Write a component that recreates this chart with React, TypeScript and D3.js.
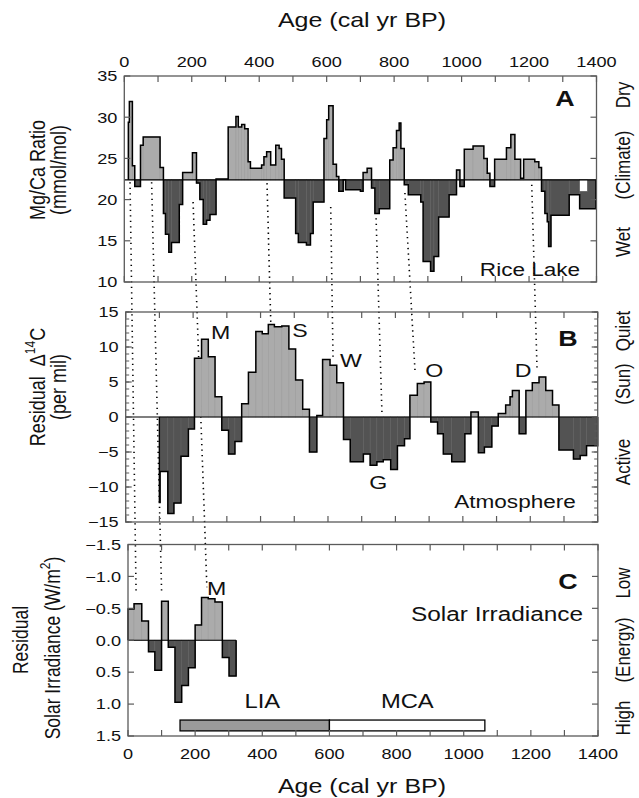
import React from 'react';
import * as d3 from 'd3';

const ageTicks = [0, 200, 400, 600, 800, 1000, 1200, 1400];
const ageMinor = d3.range(0, 1401, 100);

// A: Rice Lake Mg/Ca (step start ages, last entry = end of record)
const riceAge = [12, 15, 24, 31, 48, 56, 106, 116, 122, 132, 140, 163, 173, 202, 214, 224, 234, 244, 254, 272, 308, 331, 338, 348, 357, 367, 374, 407, 414, 422, 434, 449, 459, 466, 474, 508, 516, 540, 552, 560, 592, 600, 606, 619, 629, 636, 649, 656, 700, 708, 720, 733, 743, 756, 787, 797, 807, 815, 820, 830, 842, 879, 886, 908, 918, 932, 963, 985, 995, 1008, 1034, 1066, 1076, 1084, 1098, 1133, 1146, 1158, 1175, 1184, 1217, 1229, 1237, 1247, 1254, 1258, 1265, 1319, 1350, 1398];
const riceMgCa = [29.4, 31.9, 24.1, 21.6, 26.6, 27.6, 23.9, 18.3, 15.8, 13.6, 14.8, 19.4, 23.3, 25.7, 22.0, 20.0, 17.0, 17.5, 18.2, 22.5, 28.8, 30.1, 28.8, 29.1, 28.6, 24.6, 23.8, 24.2, 25.2, 25.8, 24.2, 26.6, 26.2, 24.9, 20.2, 15.9, 14.8, 14.5, 15.9, 19.7, 27.4, 29.7, 31.4, 24.3, 22.8, 21.0, 22.4, 21.2, 21.0, 23.3, 23.8, 21.4, 18.3, 18.9, 24.8, 26.3, 28.4, 29.3, 26.2, 21.8, 20.6, 19.7, 12.5, 11.3, 13.1, 17.9, 20.6, 23.6, 21.6, 26.1, 26.5, 25.0, 23.2, 21.6, 24.9, 26.3, 27.9, 24.9, 22.6, 24.9, 24.6, 23.9, 21.0, 18.3, 17.3, 14.3, 18.1, 20.6, 18.9];
const riceBase = 22.4;
// unfilled gap near the end of the record
const riceGapAge = [1350, 1373];
const riceGapVal = 21.0;

// B: residual D14C
const d14cAge = [100, 102, 125, 143, 164, 186, 204, 225, 245, 265, 285, 305, 324, 344, 364, 386, 405, 423, 441, 463, 484, 504, 525, 545, 567, 584, 606, 626, 646, 666, 705, 725, 745, 764, 786, 806, 827, 843, 865, 885, 905, 925, 942, 967, 1006, 1024, 1046, 1064, 1086, 1105, 1127, 1140, 1147, 1167, 1187, 1206, 1226, 1246, 1266, 1285, 1328, 1348, 1367, 1400];
const d14cResid = [-12.2, -7.8, -13.8, -12.3, -5.6, -1.7, 8.4, 11.1, 8.6, 2.9, -1.9, -5.3, -3.5, 1.9, 6.4, 12.2, 11.9, 13.2, 12.9, 13.0, 9.7, 5.3, 1.1, -5.0, 0.2, 8.2, 7.4, 4.9, -3.2, -6.4, -5.3, -6.9, -6.4, -6.1, -7.5, -4.1, -3.1, 3.1, 4.8, 5.0, -0.7, -2.4, -5.3, -6.4, -2.4, 0.7, -5.1, -4.3, -1.3, 0.5, 1.7, 2.9, 3.8, -2.4, 3.8, 4.9, 5.7, 3.8, 1.7, -4.7, -6.0, -5.5, -4.1];

// C: residual solar irradiance
const irrAge = [0, 18, 41, 61, 80, 100, 120, 140, 160, 180, 200, 219, 239, 259, 281, 301, 322];
const irrResid = [-0.49, -0.57, -0.30, 0.18, 0.47, -0.61, 0.11, 0.97, 0.71, 0.43, -0.24, -0.67, -0.65, -0.60, 0.27, 0.56];

const periodNames = ['LIA', 'MCA'];
const periodStart = [155, 600];
const periodEnd = [600, 1063];
const periodLabelAge = [400, 832];

// peak labels in panel B
const peakNames = ['M', 'S', 'W', 'O', 'D', 'G'];
const peakAge = [282, 517, 668, 915, 1179, 749];
const peakVal = [12.1, 12.4, 8.1, 6.7, 6.7, -9.3];

// dotted links: [age, value] in A at top, end in panel B or C
const linkTopAge = [17, 81, 204, 423, 612, 746, 832, 1208];
const linkTopVal = [22.1, 22.1, 19.7, 22.0, 19.1, 18.4, 20.8, 21.8];
const linkEndPanel = ['C', 'C', 'C', 'B', 'B', 'B', 'B', 'B'];
const linkEndAge = [24, 100, 235, 431, 615, 760, 858, 1220];
const linkEndVal = [-0.78, -0.78, -0.83, 12.4, 8.4, 0.7, 6.7, 7.0];

const FONT = '"Liberation Sans", Arial, Helvetica, sans-serif';
const LIGHT = '#ababab';
const DARK = '#535353';
const AXIS = '#5a5a5a';

const xA = d3.scaleLinear().domain([0, 1400]).range([124.3, 596.5]);
const yA = d3.scaleLinear().domain([10, 35]).range([282, 76]);
const xB = d3.scaleLinear().domain([0, 1400]).range([125.7, 597.7]);
const yB = d3.scaleLinear().domain([-15, 15]).range([522, 312]);
const xC = d3.scaleLinear().domain([0, 1400]).range([128, 598]);
const yC = d3.scaleLinear().domain([-1.5, 1.5]).range([544.5, 736]);

function Txt({ x, y, children, size = 14, anchor = 'middle', weight = 400, rot = false, sx = 1.22 }: any) {
  const tf = rot
    ? `translate(${x},${y}) rotate(-90) scale(1,${sx})`
    : `translate(${x},${y}) scale(${sx},1)`;
  return (
    <text transform={tf} textAnchor={anchor} dominantBaseline="central"
      fontFamily={FONT} fontSize={size} fontWeight={weight} fill="#111">
      {children}
    </text>
  );
}

function Steps({ ages, vals, base, x, y, upLight }: any) {
  const n = ages.length - 1;
  const pts: [number, number][] = [[ages[0], base]];
  for (let i = 0; i < n; i++) pts.push([ages[i], vals[i]]);
  pts.push([ages[n], vals[n - 1]]);
  pts.push([ages[n], base]);
  const line = d3.line<[number, number]>()
    .x(d => x(d[0]))
    .y(d => y(d[1]))
    .curve(d3.curveStepAfter);
  return (
    <g>
      {vals.map((v: number, i: number) => {
        const x0 = x(ages[i]);
        const x1 = x(ages[i + 1]);
        const y0 = y(v);
        const yb = y(base);
        const light = upLight(v);
        return (
          <rect key={i} x={x0} width={x1 - x0} y={Math.min(y0, yb)} height={Math.abs(y0 - yb)}
            fill={light ? LIGHT : DARK} stroke={light ? '#9c9c9c' : '#606060'} strokeWidth={0.6} />
        );
      })}
      <path d={line(pts) || ''} fill="none" stroke="#000" strokeWidth={1.5} />
    </g>
  );
}

function Frame({ x, y, yTicks, yMinor, fmt, topLabels, bottomLabels }: any) {
  const [x0, x1] = x.range();
  const [yb, yt] = y.range();
  const top = Math.min(yb, yt);
  const bot = Math.max(yb, yt);
  const L = 6;
  return (
    <g>
      <rect x={x0} y={top} width={x1 - x0} height={bot - top} fill="none" stroke={AXIS} strokeWidth={1.3} />
      {ageMinor.map(a => (
        <g key={a}>
          <line x1={x(a)} x2={x(a)} y1={top} y2={top + L} stroke={AXIS} strokeWidth={1.2} />
          <line x1={x(a)} x2={x(a)} y1={bot} y2={bot - L} stroke={AXIS} strokeWidth={1.2} />
        </g>
      ))}
      {(yMinor || []).map((v: number) => (
        <g key={'m' + v}>
          <line x1={x0} x2={x0 + 3.5} y1={y(v)} y2={y(v)} stroke={AXIS} strokeWidth={1} />
          <line x1={x1} x2={x1 - 3.5} y1={y(v)} y2={y(v)} stroke={AXIS} strokeWidth={1} />
        </g>
      ))}
      {yTicks.map((v: number) => (
        <g key={v}>
          <line x1={x0} x2={x0 + L} y1={y(v)} y2={y(v)} stroke={AXIS} strokeWidth={1.2} />
          <line x1={x1} x2={x1 - L} y1={y(v)} y2={y(v)} stroke={AXIS} strokeWidth={1.2} />
          <Txt x={x0 - 7} y={y(v)} anchor="end" size={14.5} sx={1.25}>{fmt(v)}</Txt>
        </g>
      ))}
      {topLabels && ageTicks.map(a => (
        <Txt key={'t' + a} x={x(a)} y={top - 14} size={14.5} sx={1.25}>{a}</Txt>
      ))}
      {bottomLabels && ageTicks.map(a => (
        <Txt key={'b' + a} x={x(a)} y={bot + 18} size={14.5} sx={1.25}>{a}</Txt>
      ))}
    </g>
  );
}

export default function App() {
  const panelOf: any = { A: [xA, yA], B: [xB, yB], C: [xC, yC] };
  return (
    <svg width={639} height={798} style={{ position: 'absolute', left: 0, top: 0, background: '#fff' }}>
      <rect width={639} height={798} fill="#fff" />

      {/* dotted links between panels */}
      {linkTopAge.map((a, i) => {
        const [xe, ye] = panelOf[linkEndPanel[i]];
        return (
          <line key={i} x1={xA(a)} y1={yA(linkTopVal[i])} x2={xe(linkEndAge[i])} y2={ye(linkEndVal[i])}
            stroke="#000" strokeWidth={1.6} strokeDasharray="1.3 4.2" />
        );
      })}

      {/* Panel A */}
      <Steps ages={riceAge} vals={riceMgCa} base={riceBase} x={xA} y={yA} upLight={(v: number) => v > riceBase} />
      <rect x={xA(riceGapAge[0])} width={xA(riceGapAge[1]) - xA(riceGapAge[0])}
        y={yA(riceBase)} height={yA(riceGapVal) - yA(riceBase)} fill="#fff" stroke="#555" strokeWidth={0.6} />
      <line x1={xA(0)} x2={xA(1400)} y1={yA(riceBase)} y2={yA(riceBase)} stroke="#000" strokeWidth={1.2} />
      <Frame x={xA} y={yA} yTicks={[10, 15, 20, 25, 30, 35]} fmt={d3.format('d')} topLabels />
      <Txt x={565} y={yA(32.3)} size={22} weight={700}>A</Txt>
      <Txt x={530} y={yA(11.6)} size={18.5}>Rice Lake</Txt>

      {/* Panel B */}
      <Steps ages={d14cAge} vals={d14cResid} base={0} x={xB} y={yB} upLight={(v: number) => v > 0} />
      <line x1={xB(0)} x2={xB(1400)} y1={yB(0)} y2={yB(0)} stroke="#000" strokeWidth={1.2} />
      <Frame x={xB} y={yB} yTicks={[-15, -10, -5, 0, 5, 10, 15]} yMinor={d3.range(-15, 16, 1)} fmt={d3.format('d')} />
      <Txt x={568} y={yB(11.3)} size={22} weight={700}>B</Txt>
      <Txt x={515} y={yB(-12.1)} size={18.5}>Atmosphere</Txt>
      {peakNames.map((p, i) => (
        <Txt key={p} x={xB(peakAge[i])} y={yB(peakVal[i])} size={19}>{p}</Txt>
      ))}

      {/* Panel C */}
      <Steps ages={irrAge} vals={irrResid} base={0} x={xC} y={yC} upLight={(v: number) => v < 0} />
      <line x1={xC(irrAge[0])} x2={xC(irrAge[irrAge.length - 1])} y1={yC(0)} y2={yC(0)} stroke="#000" strokeWidth={1.2} />
      {periodNames.map((p, i) => (
        <g key={p}>
          <rect x={xC(periodStart[i])} width={xC(periodEnd[i]) - xC(periodStart[i])}
            y={yC(1.25)} height={yC(1.42) - yC(1.25)}
            fill={i === 0 ? '#9a9a9a' : '#fff'} stroke="#000" strokeWidth={1.3} />
          <Txt x={xC(periodLabelAge[i])} y={yC(0.95)} size={19.5}>{p}</Txt>
        </g>
      ))}
      <Frame x={xC} y={yC} yTicks={[-1.5, -1.0, -0.5, 0, 0.5, 1.0, 1.5]} fmt={d3.format('.1f')} bottomLabels />
      <Txt x={568} y={yC(-0.93)} size={22} weight={700}>C</Txt>
      <Txt x={583} y={yC(-0.41)} size={19.5} sx={1.25} anchor="end">Solar Irradiance</Txt>
      <Txt x={xC(264)} y={yC(-0.81)} size={19}>M</Txt>

      {/* axis titles */}
      <Txt x={362} y={20} size={20.5}>Age (cal yr BP)</Txt>
      <Txt x={362} y={786} size={20.5}>Age (cal yr BP)</Txt>

      <Txt x={37} y={170} size={18} rot>Mg/Ca Ratio</Txt>
      <Txt x={58} y={170} size={18} rot>(mmol/mol)</Txt>
      <text transform={`translate(37,387) rotate(-90) scale(1,1.22)`} textAnchor="middle" dominantBaseline="central"
        fontFamily={FONT} fontSize={18} fill="#111">
        Residual<tspan dx={10}>Δ</tspan><tspan dy={-6} fontSize={12}>14</tspan><tspan dy={6}>C</tspan>
      </text>
      <Txt x={58} y={387} size={18} rot>(per mil)</Txt>
      <Txt x={20} y={640} size={17.5} rot>Residual</Txt>
      <text transform={`translate(52,648) rotate(-90) scale(1,1.22)`} textAnchor="middle" dominantBaseline="central"
        fontFamily={FONT} fontSize={17.5} fill="#111">
        Solar Irradiance (W/m<tspan dy={-6} fontSize={12}>2</tspan><tspan dy={6}>)</tspan>
      </text>

      {/* right-side interpretation labels */}
      <Txt x={623} y={95} size={17} rot>Dry</Txt>
      <Txt x={623} y={165} size={17} rot>(Climate)</Txt>
      <Txt x={623} y={242} size={17} rot>Wet</Txt>
      <Txt x={623} y={331} size={17} rot>Quiet</Txt>
      <Txt x={623} y={384} size={17} rot>(Sun)</Txt>
      <Txt x={623} y={462} size={17} rot>Active</Txt>
      <Txt x={623} y={583} size={17} rot>Low</Txt>
      <Txt x={623} y={650} size={17} rot>(Energy)</Txt>
      <Txt x={623} y={718} size={17} rot>High</Txt>
    </svg>
  );
}
